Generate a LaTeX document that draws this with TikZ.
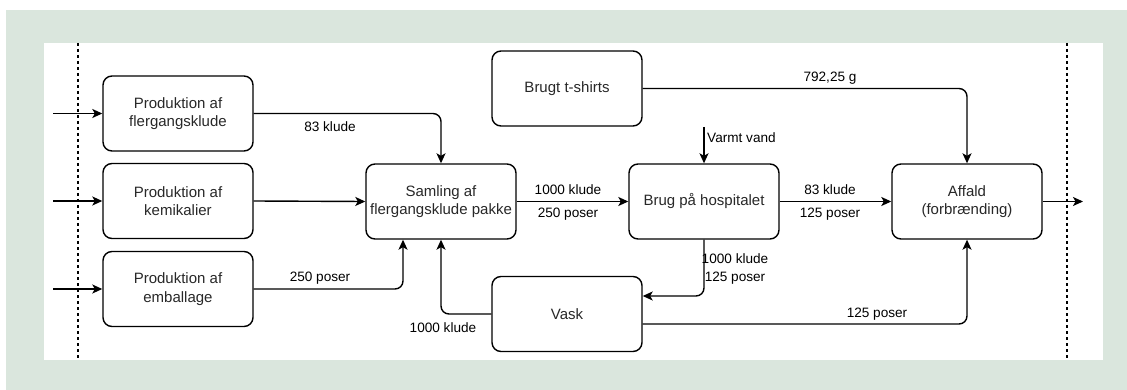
\documentclass[tikz,border=0pt]{standalone}
\usepackage{fontspec}
\setmainfont{Liberation Sans}
\usetikzlibrary{arrows.meta}
\definecolor{bgGreen}{RGB}{218,230,221}
\definecolor{boxText}{RGB}{40,40,40}
\tikzset{
  procbox/.style={draw=black, line width=1.4pt, rounded corners=9pt, fill=white,
    minimum width=150pt, minimum height=75pt, inner sep=0pt, align=center,
    text=boxText, font=\fontsize{15}{18.3}\selectfont},
  arr/.style={draw=black, line width=1.4pt, rounded corners=8pt,
    -{Stealth[length=10pt,width=9pt,inset=2.5pt]}},
  lbl/.style={inner sep=0pt, align=center, text=black, font=\fontsize{13.6}{18}\selectfont},
  boundary/.style={draw=black, line width=1.1pt, dash pattern=on 3pt off 3pt}
}
\begin{document}
\begin{tikzpicture}[x=1pt,y=-1pt]
\useasboundingbox (0,0) rectangle (1127,390);
\fill[white] (0,0) rectangle (1127,390);
\fill[bgGreen] (6,10) rectangle (1127,390);
\fill[white] (44,43) rectangle (1103,360);
\draw[boundary] (78,43) -- (78,360);
\draw[boundary] (1067,43) -- (1067,360);

\node[procbox] (p1) at (178,113.5) {Produktion af\\flergangsklude};
\node[procbox] (p2) at (178,201) {Produktion af\\kemikalier};
\node[procbox] (p3) at (178,289) {Produktion af\\emballage};
\node[procbox] (sam) at (441,201.5) {Samling af\\flergangsklude pakke};
\node[procbox] (ts) at (567,88.5) {Brugt t-shirts};
\node[procbox] (brug) at (704,201.5) {Brug på hospitalet};
\node[procbox] (vask) at (567,314) {Vask};
\node[procbox] (aff) at (967,201.5) {Affald\\(forbrænding)};

\coordinate (in1) at (53,113.5);
\coordinate (in2) at (53,201);
\coordinate (in3) at (53,289);
\coordinate (vv) at (704,127);
\coordinate (out) at (1083,201.5);

\draw[arr] (in1) -- (p1.west);
\draw[arr] (in2) -- (p2.west);
\draw[arr] (in3) -- (p3.west);
\draw[arr] (p1.east) -| (sam.north);
\draw[arr] (p2.east) -- (sam.west);
\draw[arr] (p3.east) -| ([xshift=-38pt]sam.south);
\draw[arr] (vask.west) -| (sam.south);
\draw[arr] (sam.east) -- (brug.west);
\draw[arr] (brug.east) -- (aff.west);
\draw[arr] (ts.east) -| (aff.north);
\draw[arr] (vv) -- (brug.north);
\draw[arr] (brug.south) |- ([yshift=18pt]vask.east);
\draw[arr] ([yshift=-10pt]vask.east) -| (aff.south);
\draw[arr] (aff.east) -- (out);

\node[lbl] (l1) at (330,127) {83 klude};
\node[lbl] (l2) at (320,278) {250 poser};
\node[lbl] (l3) at (568,190) {1000 klude};
\node[lbl] (l4) at (568,214) {250 poser};
\node[lbl, anchor=west] (l5) at (707,138) {Varmt vand};
\node[lbl] (l6) at (830,78) {792,25 g};
\node[lbl] (l7) at (830,190) {83 klude};
\node[lbl] (l8) at (830,214) {125 poser};
\node[lbl] (l9) at (735,269) {1000 klude\\125 poser};
\node[lbl] (l10) at (443,328) {1000 klude};
\node[lbl] (l11) at (877,314) {125 poser};
\end{tikzpicture}
\end{document}
